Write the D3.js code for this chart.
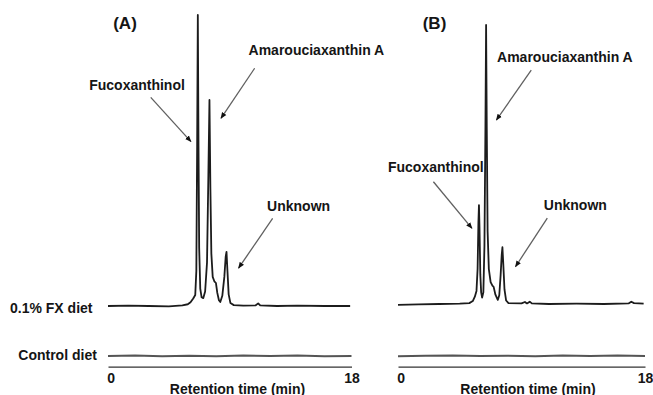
<!DOCTYPE html>
<html>
<head>
  <meta charset="utf-8">
  <script src="https://d3js.org/d3.v7.min.js"></script>
  <style>
    body { margin:0; background:#fff; }
    text { font-family: "Liberation Sans", Arial, sans-serif; font-weight: bold; fill: #151515; }
    .trace { fill:none; stroke:#1c1c1c; stroke-width:1.8; stroke-linejoin:round; }
    .ctl { fill:none; stroke:#555; stroke-width:2; }
    .axis path { stroke:#333; stroke-width:1.3; }
    .axis text { font-size:14px; }
    .arrow { stroke:#606060; stroke-width:1.3; }
</style>
</head>
<body>
  <script>
    // chromatogram data: [retention time (min), signal (% of A's largest peak)]
    var fxTraceA = [[0,0],[1.5,0.1],[3,0],[4.5,-0.1],[5.5,0.2],[5.9,0.6],[6.1,1.3],[6.3,2.6],
                    [6.45,3.8],[6.53,12],[6.59,55],[6.64,100],[6.69,55],[6.74,20],[6.82,6],[6.92,3],
                    [7.04,2.7],[7.18,5],[7.32,15],[7.42,45],[7.5,70.8],[7.57,40],[7.64,18],[7.74,10],
                    [7.86,8.5],[7.98,7.9],[8.08,4.5],[8.2,2],[8.3,1.4],[8.45,3.5],[8.6,10],[8.7,17],
                    [8.76,18.6],[8.83,12],[8.92,4],[9.05,1],[9.3,0.3],[10,0.1],[10.9,0.2],[11.1,0.9],
                    [11.25,0.2],[12.5,0],[14,0.1],[16,0],[17.9,0]];
    var fxTraceB = [[0,-0.3],[1.5,-0.1],[3,0],[4.5,0.1],[5.2,0.3],[5.45,1],[5.6,2.5],[5.72,4.5],
                    [5.8,12],[5.86,28],[5.9,34],[5.94,26],[6.0,10],[6.06,4],[6.13,2.2],[6.22,4],
                    [6.3,20],[6.37,60],[6.42,95.9],[6.47,60],[6.53,25],[6.62,12],[6.75,7.5],[6.88,6.3],
                    [6.97,5.9],[7.1,3.2],[7.27,1.4],[7.38,3],[7.48,10],[7.56,17],[7.61,19.5],[7.67,14],
                    [7.76,5],[7.88,1.2],[8.05,0.3],[9.0,0.2],[9.25,0.7],[9.4,0.2],[9.6,0.8],[9.75,0.2],
                    [11,0],[13,0.1],[15,0],[16.8,0.2],[17.0,0.8],[17.2,0.3],[17.9,0.1]];
    var controlTraceA = [[0,0],[2,0.2],[4,-0.1],[6,0.1],[8,-0.1],[10,0.2],[12,0],[14,0.2],[16,-0.1],[18,0]];
    var controlTraceB = [[0,-0.1],[2,0.1],[4,0.2],[6,0],[8,0.1],[10,-0.1],[12,0.2],[14,0],[16,0.2],[18,0]];

    var panelNames = ["(A)", "(B)"];
    var rowLabels = ["0.1% FX diet", "Control diet"];
    var peakNames = ["Fucoxanthinol", "Amarouciaxanthin A", "Unknown"];
    var timeTicks = [0, 18];
    var axisTitle = "Retention time (min)";

    // annotation anchors in data units: text start, arrow tail, arrow tip
    var notesA = [
      {text:[-1.39,74.2], tail:[3.16,71.7], tip:[6.13,56.5]},
      {text:[10.39,86.3], tail:[10.84,81.7], tip:[8.35,64.5]},
      {text:[11.76,32.5], tail:[12.17,30.1], tip:[9.65,13.0]}
    ];
    var notesB = [
      {text:[-0.73,45.4], tail:[2.58,42.0], tip:[5.39,26.0]},
      {text:[7.22,83.0], tail:[9.71,80.4], tip:[7.17,63.2]},
      {text:[10.63,32.3], tail:[10.88,29.5], tip:[8.56,12.8]}
    ];

    var W = 653, H = 395;
    var svg = d3.select("body").append("svg").attr("width", W).attr("height", H);

    svg.append("defs").append("marker")
        .attr("id", "head").attr("viewBox", "0 0 10 10")
        .attr("refX", 9).attr("refY", 5)
        .attr("markerWidth", 5).attr("markerHeight", 5)
        .attr("markerUnits", "strokeWidth")
        .attr("orient", "auto")
      .append("path").attr("d", "M0,1L10,5L0,9z").attr("fill", "#111");

    var panels = [
      {name: panelNames[0], range:[108, 351.5], fxBase:306, fx:fxTraceA, ctl:controlTraceA, notes:notesA, title:[125,29], axisMid:237.5},
      {name: panelNames[1], range:[398, 645], fxBase:304, fx:fxTraceB, ctl:controlTraceB, notes:notesB, title:[434.5,29], axisMid:528}
    ];
    var ctlBase = 356, axisY = 366.7;

    var yUnit = d3.scaleLinear().domain([0, 100]).range([0, -291]);

    panels.forEach(p => {
      var x = d3.scaleLinear().domain([0, 18]).range(p.range);
      var yFx = v => p.fxBase + yUnit(v);
      var yCtl = v => ctlBase + yUnit(v);

      svg.append("path").attr("class", "trace")
          .attr("d", d3.line().x(d => x(d[0])).y(d => yFx(d[1]))(p.fx));
      svg.append("path").attr("class", "ctl")
          .attr("d", d3.line().x(d => x(d[0])).y(d => yCtl(d[1]))(p.ctl));

      var ax = svg.append("g").attr("class", "axis")
          .attr("transform", "translate(0," + axisY + ")")
          .call(d3.axisBottom(x).tickValues(timeTicks).tickSize(0).tickPadding(6.5).tickFormat(d3.format("d")));
      ax.selectAll(".tick text").attr("dx", d => d === 0 ? 2.7 : 0);

      svg.append("text").attr("x", p.axisMid).attr("y", 393.5)
          .attr("text-anchor", "middle").style("font-size", "14px").text(axisTitle);

      svg.append("text").attr("x", p.title[0]).attr("y", p.title[1])
          .attr("text-anchor", "middle").style("font-size", "17px").text(p.name);

      p.notes.forEach((n, i) => {
        svg.append("text").attr("x", x(n.text[0])).attr("y", yFx(n.text[1]))
            .style("font-size", "14px").text(peakNames[i]);
        svg.append("line").attr("class", "arrow")
            .attr("x1", x(n.tail[0])).attr("y1", yFx(n.tail[1]))
            .attr("x2", x(n.tip[0])).attr("y2", yFx(n.tip[1]))
            .attr("marker-end", "url(#head)");
      });
    });

    svg.append("text").attr("x", 10).attr("y", 313.3).style("font-size", "14px").text(rowLabels[0]);
    svg.append("text").attr("x", 18.3).attr("y", 360).style("font-size", "14px").text(rowLabels[1]);
  </script>
</body>
</html>
